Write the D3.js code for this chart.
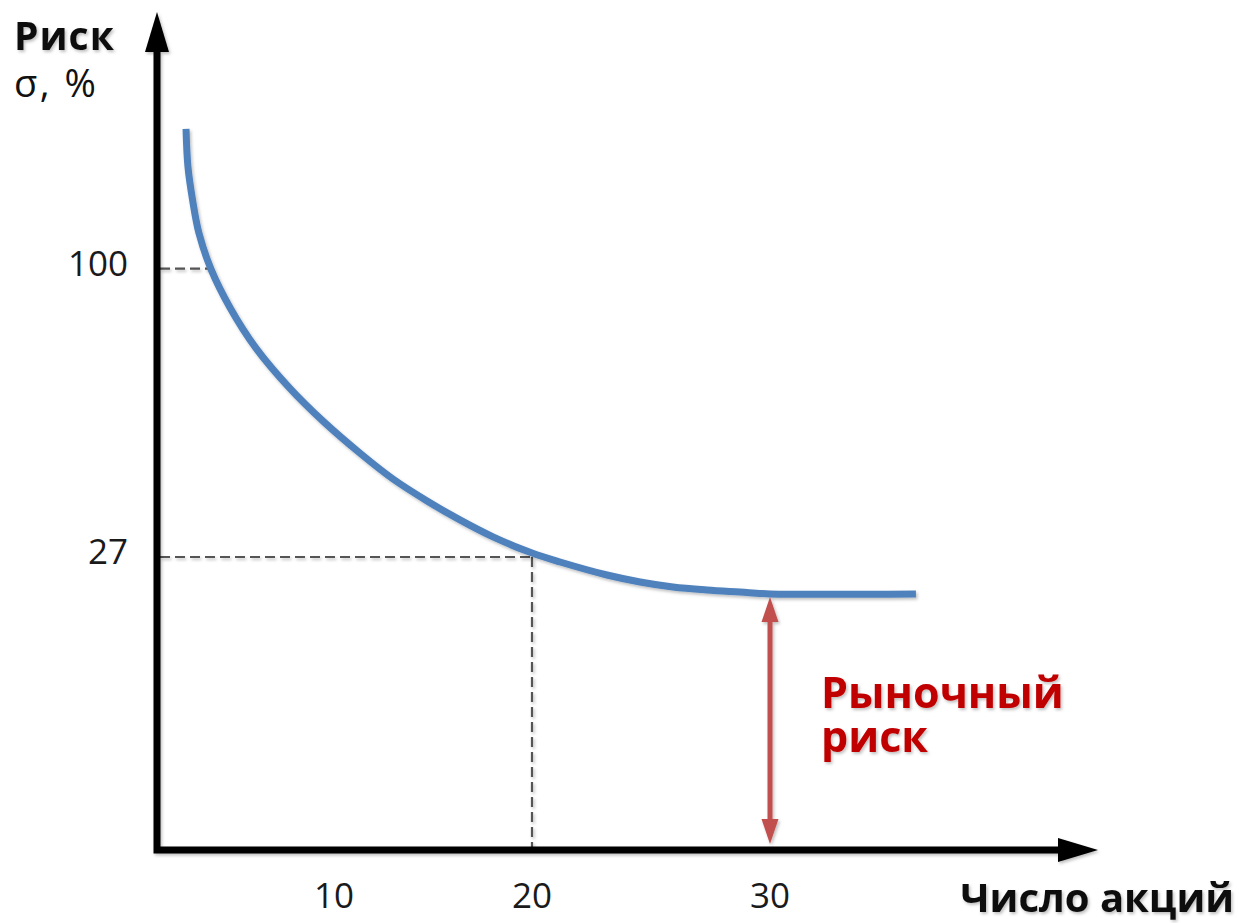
<!DOCTYPE html>
<html>
<head>
<meta charset="utf-8">
<script src="https://cdn.jsdelivr.net/npm/d3@7"></script>
<style>
  body { margin: 0; background: #fff; }
  svg { display: block; }
  text { font-family: "Open Sans", "Noto Sans", sans-serif; }
</style>
</head>
<body>
<svg id="chart" width="1239" height="923"></svg>
<script>
// chart values (schematic axes)
const xTicks = [10, 20, 30];
const yTicks = [27, 100];
const curveX = [1.64, 1.75, 2.01, 2.37, 3.05, 4.12, 5.59, 7.51, 9.38, 11.31, 12.98, 14.7, 16.36, 18.03, 20, 21.18, 23.15, 24.54, 25.92, 27.35, 28.74, 30, 36.14];
const curveY = [135.4, 125.75, 117.4, 109, 99.9, 90.2, 79.9, 69.7, 61.4, 53.3, 46.75, 41.2, 36.4, 32.1, 28, 26.54, 25.34, 24.7, 24.24, 23.96, 23.77, 23.6, 23.6];
const guideX = [3.05, 20];
const guideY = [100, 27];
const guideDown = [false, true];
const marketX = 30;
const marketY = 23.6;
const yTitle = ["Риск", "σ, %"];
const xTitle = "Число акций";
const marketLabel = ["Рыночный", "риск"];

const svg = d3.select("#chart");

// the axes are not evenly spaced in the picture, so both scales are piecewise
const x = d3.scaleLinear().domain([0, 10, 20, 30, 43.8]).range([157, 334, 532, 770, 1098]);
const y = d3.scaleLinear().domain([0, 27, 165]).range([850, 557, 12]);

const defs = svg.append("defs");
const shadow = defs.append("filter").attr("id", "shadow")
    .attr("x", "-20%").attr("y", "-20%").attr("width", "140%").attr("height", "140%");
shadow.append("feDropShadow")
    .attr("dx", 1.5).attr("dy", 2).attr("stdDeviation", 1.5)
    .attr("flood-color", "#000").attr("flood-opacity", 0.25);

const x0 = x(0), y0 = y(0);
const xEnd = x(x.domain()[4]), yEnd = y(y.domain()[2]);

// dashed guides
const guides = svg.append("g").attr("filter", "url(#shadow)");
guideX.forEach((gx, i) => {
    guides.append("line")
        .attr("x1", x0 + 3).attr("x2", x(gx))
        .attr("y1", y(guideY[i])).attr("y2", y(guideY[i]))
        .attr("stroke", "#555").attr("stroke-width", 2.2).attr("stroke-dasharray", "10,5");
    if (guideDown[i]) {
        guides.append("line")
            .attr("x1", x(gx)).attr("x2", x(gx))
            .attr("y1", y(guideY[i])).attr("y2", y0 - 3)
            .attr("stroke", "#555").attr("stroke-width", 2.2).attr("stroke-dasharray", "10,5");
    }
});

// axes with arrow heads
const axes = svg.append("g").attr("filter", "url(#shadow)");
axes.append("path")
    .attr("d", `M${x0},${yEnd + 38} L${x0},${y0} L${xEnd - 38},${y0}`)
    .attr("fill", "none").attr("stroke", "#000").attr("stroke-width", 7)
    .attr("stroke-linecap", "square");
axes.append("path")
    .attr("d", `M${x0},${yEnd} L${x0 + 12},${yEnd + 40} L${x0 - 12},${yEnd + 40}Z`)
    .attr("fill", "#000");
axes.append("path")
    .attr("d", `M${xEnd},${y0} L${xEnd - 40},${y0 - 12} L${xEnd - 40},${y0 + 12}Z`)
    .attr("fill", "#000");

// tick labels
svg.append("g").selectAll("text").data(yTicks).join("text")
    .attr("x", 128).attr("y", d => y(d) + 7)
    .attr("text-anchor", "end").attr("font-size", 35).attr("fill", "#1a1a1a")
    .text(d => d);
svg.append("g").selectAll("text").data(xTicks).join("text")
    .attr("x", d => x(d)).attr("y", 908)
    .attr("text-anchor", "middle").attr("font-size", 35).attr("fill", "#1a1a1a")
    .text(d => d);

// risk curve
const line = d3.line()
    .x(d => x(d[0]))
    .y(d => y(d[1]))
    .curve(d3.curveCatmullRom.alpha(0.5));
svg.append("path")
    .datum(d3.zip(curveX, curveY))
    .attr("d", line)
    .attr("fill", "none").attr("stroke", "#4f81bd").attr("stroke-width", 7)
    .attr("filter", "url(#shadow)");

// market risk double arrow
const mx = x(marketX), arrowTop = y(marketY) + 3, arrowBot = y0 - 6;
const arrow = svg.append("g").attr("filter", "url(#shadow)");
arrow.append("line")
    .attr("x1", mx).attr("x2", mx).attr("y1", arrowTop + 20).attr("y2", arrowBot - 20)
    .attr("stroke", "#c0504d").attr("stroke-width", 5);
arrow.append("path")
    .attr("d", `M${mx},${arrowTop} L${mx + 8.5},${arrowTop + 25} L${mx - 8.5},${arrowTop + 25}Z`)
    .attr("fill", "#c0504d");
arrow.append("path")
    .attr("d", `M${mx},${arrowBot} L${mx + 8.5},${arrowBot - 25} L${mx - 8.5},${arrowBot - 25}Z`)
    .attr("fill", "#c0504d");

// titles
svg.append("text").attr("x", 14).attr("y", 50)
    .attr("font-size", 39).attr("font-weight", 700).attr("fill", "#111")
    .attr("letter-spacing", 1)
    .attr("filter", "url(#shadow)")
    .text(yTitle[0]);
svg.append("text").attr("x", 14).attr("y", 97)
    .attr("font-size", 38).attr("font-weight", 500).attr("fill", "#111")
    .attr("letter-spacing", 2.5)
    .text(yTitle[1]);
svg.append("text").attr("x", 1234).attr("y", 912)
    .attr("text-anchor", "end")
    .attr("font-size", 40).attr("font-weight", 700).attr("fill", "#111")
    .attr("filter", "url(#shadow)")
    .text(xTitle);
svg.append("text")
    .attr("x", 821).attr("y", 708)
    .attr("font-size", 43).attr("font-weight", 700).attr("fill", "#c00000")
    .attr("filter", "url(#shadow)")
    .selectAll("tspan").data(marketLabel).join("tspan")
    .attr("x", 821).attr("dy", (d, i) => i === 0 ? 0 : 44)
    .text(d => d);
</script>
</body>
</html>
